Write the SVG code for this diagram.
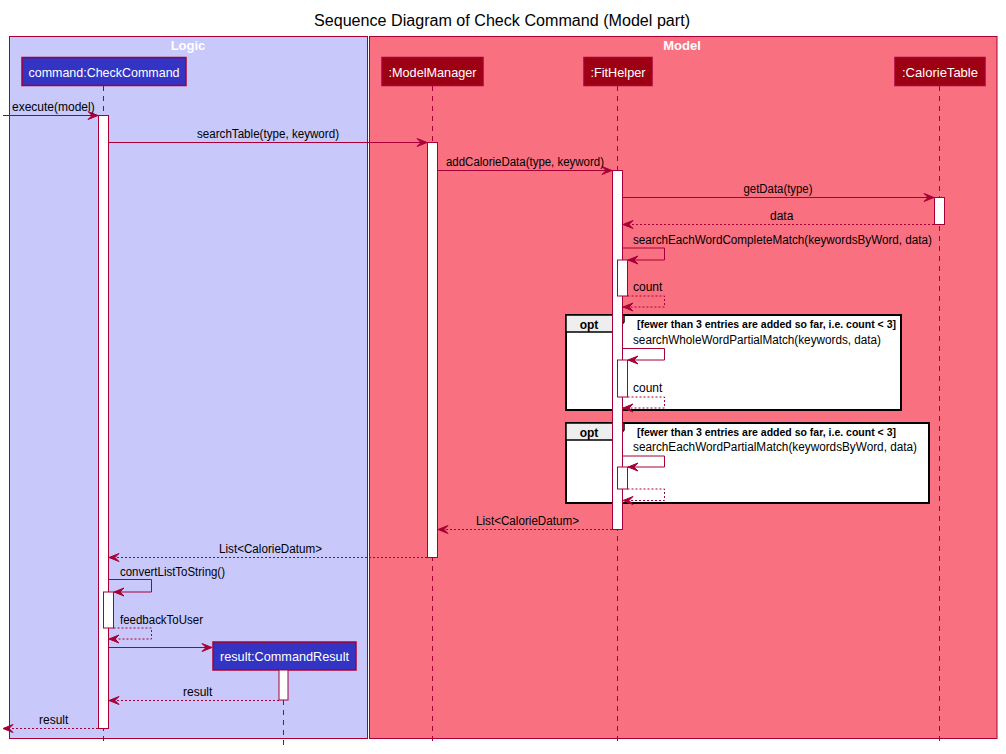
<svg xmlns="http://www.w3.org/2000/svg" width="1006" height="754" viewBox="0 0 1006 754">
<style>
text { font-family: "Liberation Sans", Arial, sans-serif; }
.title { font-size: 16px; fill: #000; }
.boxlbl { font-size: 13px; font-weight: bold; fill: #fff; text-anchor: middle; }
.plbl { font-size: 13px; fill: #fff; text-anchor: middle; }
.msg { font-size: 12px; fill: #000; }
.optlbl { font-size: 12px; font-weight: bold; fill: #000; text-anchor: middle; }
.guard { font-size: 10.5px; font-weight: bold; fill: #000; }
.logic { fill: #3333C4; stroke: #A80036; stroke-width: 1.5; }
.model { fill: #9D0012; stroke: #A80036; stroke-width: 1.5; }
.life { stroke: #A80036; stroke-width: 1; stroke-dasharray: 5,5; fill: none; }
.act { fill: #fff; stroke: #A80036; stroke-width: 1; }
.call { stroke: #A80036; stroke-width: 1; fill: none; marker-end: url(#ah); }
.ret { stroke: #A80036; stroke-width: 1; fill: none; stroke-dasharray: 2,2; marker-end: url(#ah); }
.frag { fill: #fff; stroke: #000; stroke-width: 2; }
.tab { fill: #EEEEEE; stroke: #000; stroke-width: 1.5; }
</style>
<defs>
<marker id="ah" markerUnits="userSpaceOnUse" markerWidth="12" markerHeight="10" refX="10" refY="4" orient="auto" overflow="visible">
<path d="M0,0 L10,4 L0,8 L4,4 Z" fill="#A80036" stroke="#A80036" stroke-width="1"/>
</marker>
</defs>
<rect width="1006" height="754" fill="#fff"/>
<text class="title" x="314" y="26" textLength="376" lengthAdjust="spacingAndGlyphs">Sequence Diagram of Check Command (Model part)</text>

<g id="box-logic">
<rect x="9.5" y="36.5" width="358" height="702" fill="#C8C8FA" stroke="#A80036" stroke-width="1"/>
<text class="boxlbl" x="188" y="50">Logic</text>
</g>
<g id="box-model">
<rect x="369.5" y="36.5" width="627.5" height="702" fill="#F97181" stroke="#A80036" stroke-width="1"/>
<text class="boxlbl" x="682" y="50">Model</text>
</g>

<g id="p-checkcommand">
<line class="life" x1="103.5" y1="86" x2="103.5" y2="746"/>
<rect class="logic" x="22" y="57.5" width="164" height="28"/>
<text class="plbl" x="104" y="76.5" textLength="151" lengthAdjust="spacingAndGlyphs">command:CheckCommand</text>
</g>
<g id="p-modelmanager">
<line class="life" x1="432.5" y1="86" x2="432.5" y2="746"/>
<rect class="model" x="382" y="57.5" width="101" height="28"/>
<text class="plbl" x="432.5" y="76.5" textLength="88" lengthAdjust="spacingAndGlyphs">:ModelManager</text>
</g>
<g id="p-fithelper">
<line class="life" x1="617.5" y1="86" x2="617.5" y2="746"/>
<rect class="model" x="584" y="57.5" width="68" height="28"/>
<text class="plbl" x="618" y="76.5" textLength="55" lengthAdjust="spacingAndGlyphs">:FitHelper</text>
</g>
<g id="p-calorietable">
<line class="life" x1="939.5" y1="86" x2="939.5" y2="746"/>
<rect class="model" x="895" y="57.5" width="90" height="28"/>
<text class="plbl" x="940" y="76.5" textLength="76" lengthAdjust="spacingAndGlyphs">:CalorieTable</text>
</g>
<g id="p-commandresult">
<line class="life" x1="283.5" y1="670" x2="283.5" y2="746"/>
<rect class="logic" x="213" y="642" width="143" height="28"/>
<text class="plbl" x="284.5" y="661" textLength="129" lengthAdjust="spacingAndGlyphs">result:CommandResult</text>
</g>

<g id="opt-1">
<rect class="frag" x="566" y="315" width="335" height="95"/>
<path class="tab" d="M566,315 L624,315 L624,322 L615,332 L566,332 Z"/>
<text class="optlbl" x="589" y="328.5">opt</text>
<text class="guard" x="637" y="328" textLength="259" lengthAdjust="spacingAndGlyphs">[fewer than 3 entries are added so far, i.e. count &lt; 3]</text>
</g>
<g id="opt-2">
<rect class="frag" x="566" y="423" width="363" height="80"/>
<path class="tab" d="M566,423 L624,423 L624,430 L615,440 L566,440 Z"/>
<text class="optlbl" x="589" y="436.5">opt</text>
<text class="guard" x="637" y="436" textLength="259" lengthAdjust="spacingAndGlyphs">[fewer than 3 entries are added so far, i.e. count &lt; 3]</text>
</g>

<g id="activations">
<rect class="act" x="98.5" y="115.5" width="10" height="613"/>
<rect class="act" x="103.5" y="592" width="10" height="36"/>
<rect class="act" x="427.5" y="142.5" width="10" height="415"/>
<rect class="act" x="612.5" y="170.5" width="10" height="359"/>
<rect class="act" x="617.5" y="260" width="10" height="36"/>
<rect class="act" x="617.5" y="360" width="10" height="37"/>
<rect class="act" x="617.5" y="467" width="10" height="22"/>
<rect class="act" x="934.5" y="197.5" width="10" height="27"/>
<rect class="act" x="279" y="670" width="9" height="30"/>
</g>

<g id="connectors">
<line class="call" x1="3" y1="115.5" x2="98" y2="115.5"/>
<line class="call" x1="108.5" y1="142.5" x2="427" y2="142.5"/>
<line class="call" x1="437.5" y1="170.5" x2="612" y2="170.5"/>
<line class="call" x1="622.5" y1="197.5" x2="934" y2="197.5"/>
<line class="ret" x1="934" y1="224.5" x2="623" y2="224.5"/>
<polyline class="call" points="622.5,248 664.5,248 664.5,260 628,260"/>
<polyline class="ret" points="627.5,296 664.5,296 664.5,307 623,307"/>
<polyline class="call" points="622.5,348.5 664.5,348.5 664.5,360 628,360"/>
<polyline class="ret" points="627.5,397 664.5,397 664.5,408 623,408"/>
<polyline class="call" points="622.5,456 664.5,456 664.5,467 628,467"/>
<polyline class="ret" points="627.5,489 664.5,489 664.5,500.5 623,500.5"/>
<line class="ret" x1="612" y1="529.5" x2="438" y2="529.5"/>
<line class="ret" x1="427" y1="557.5" x2="109" y2="557.5"/>
<polyline class="call" points="108.5,579.5 151.5,579.5 151.5,592 114,592"/>
<polyline class="ret" points="113.5,628 151.5,628 151.5,639 109,639"/>
<line class="call" x1="108.5" y1="647.5" x2="212" y2="647.5"/>
<line class="ret" x1="279" y1="700.5" x2="109" y2="700.5"/>
<line class="ret" x1="98" y1="728.5" x2="3" y2="728.5"/>

<text class="msg" x="12" y="111">execute(model)</text>
<text class="msg" x="197" y="138" textLength="142" lengthAdjust="spacingAndGlyphs">searchTable(type, keyword)</text>
<text class="msg" x="446" y="166" textLength="158" lengthAdjust="spacingAndGlyphs">addCalorieData(type, keyword)</text>
<text class="msg" x="743.5" y="193" textLength="69" lengthAdjust="spacingAndGlyphs">getData(type)</text>
<text class="msg" x="770" y="220">data</text>
<text class="msg" x="633" y="243.5" textLength="299" lengthAdjust="spacingAndGlyphs">searchEachWordCompleteMatch(keywordsByWord, data)</text>
<text class="msg" x="633" y="291">count</text>
<text class="msg" x="633" y="344" textLength="248" lengthAdjust="spacingAndGlyphs">searchWholeWordPartialMatch(keywords, data)</text>
<text class="msg" x="633" y="392">count</text>
<text class="msg" x="633" y="451" textLength="284" lengthAdjust="spacingAndGlyphs">searchEachWordPartialMatch(keywordsByWord, data)</text>
<text class="msg" x="476" y="525" textLength="103" lengthAdjust="spacingAndGlyphs">List&lt;CalorieDatum&gt;</text>
<text class="msg" x="219" y="552.5" textLength="103" lengthAdjust="spacingAndGlyphs">List&lt;CalorieDatum&gt;</text>
<text class="msg" x="120" y="576" textLength="105" lengthAdjust="spacingAndGlyphs">convertListToString()</text>
<text class="msg" x="120" y="623.5" textLength="83" lengthAdjust="spacingAndGlyphs">feedbackToUser</text>
<text class="msg" x="183" y="696">result</text>
<text class="msg" x="39" y="724">result</text>
</g>
</svg>
